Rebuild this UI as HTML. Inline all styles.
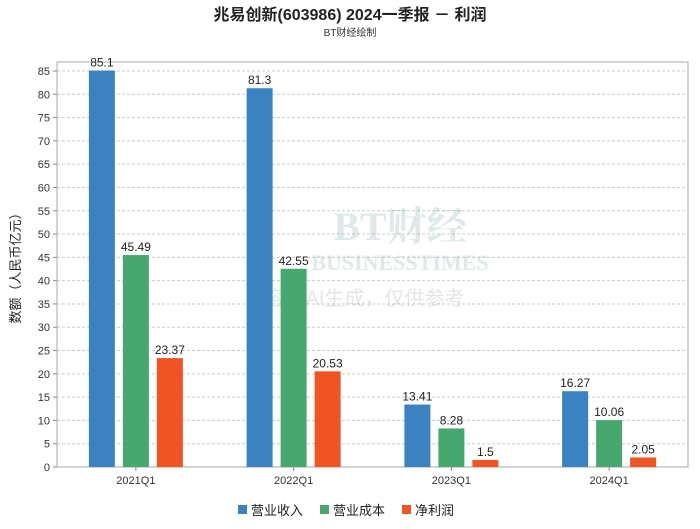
<!DOCTYPE html>
<html><head><meta charset="utf-8"><style>
body{margin:0;background:#fff;font-family:"Liberation Sans","Noto Sans CJK SC",sans-serif;}
</style></head><body>
<svg width="700" height="524" xmlns="http://www.w3.org/2000/svg" font-family="Liberation Sans, Noto Sans CJK SC, sans-serif">
<rect width="700" height="524" fill="#fff"/>
<text x="350" y="20" text-anchor="middle" font-size="16" font-weight="bold" fill="#222">兆易创新(603986) 2024一季报 － 利润</text>
<text x="350" y="36" text-anchor="middle" font-size="10" fill="#333">BT财经绘制</text>
<g id="grid"></g>
<g id="wm" opacity="0.25">
<text x="400" y="240" text-anchor="middle" font-size="40" font-family="Liberation Serif, Noto Serif CJK SC, serif" font-weight="bold" fill="#8aa">BT财经</text>
<text x="400" y="270" text-anchor="middle" font-size="22" font-family="Liberation Serif, serif" font-weight="bold" fill="#8aa">BUSINESSTIMES</text>
<text x="355" y="305" text-anchor="middle" font-size="20" fill="#999">内容由AI生成，仅供参考</text>
</g>
<g id="bars"></g>
<text transform="translate(20,265) rotate(-90)" text-anchor="middle" font-size="13" fill="#222">数额（人民币亿元）</text>
<g font-size="13" fill="#222">
<g><rect x="238" y="505" width="9" height="9" fill="#3a82c0"/><text x="251" y="515">营业收入</text></g>
<g><rect x="320" y="505" width="9" height="9" fill="#46a86e"/><text x="333" y="515">营业成本</text></g>
<g><rect x="402" y="505" width="9" height="9" fill="#f05423"/><text x="415" y="515">净利润</text></g>
</g>
</svg>
<script>
const categories=["2021Q1","2022Q1","2023Q1","2024Q1"];
const revenue=[85.1,81.3,13.41,16.27];
const cost=[45.49,42.55,8.28,10.06];
const profit=[23.37,20.53,1.5,2.05];
const yTicks=[0,5,10,15,20,25,30,35,40,45,50,55,60,65,70,75,80,85];
const NS="http://www.w3.org/2000/svg";
const L=57,R=688,T=62,B=467;
const y=v=>B-v*(467-71)/85;
const xc=i=>L+(R-L)/4*(i+0.5);
function mk(t,a,p){const e=document.createElementNS(NS,t);for(const k in a)e.setAttribute(k,a[k]);p.appendChild(e);return e;}
const g=document.getElementById('grid');
mk('rect',{x:L,y:T,width:R-L,height:B-T,fill:'none',stroke:'#aaa'},g);
yTicks.forEach(v=>{
 if(v>0){const ln=mk('line',{x1:L,x2:R,y1:y(v),y2:y(v),stroke:'#ccc','stroke-dasharray':'3,2'},g);
 
 }
 mk('line',{x1:L-4,x2:L,y1:y(v),y2:y(v),stroke:'#888'},g);
 const t=mk('text',{x:L-7,y:y(v)+4,'text-anchor':'end','font-size':11,fill:'#333'},g);t.textContent=v;
 
 
});
const bg=document.getElementById('bars');
const series=[[revenue,'#3a82c0','revenue'],[cost,'#46a86e','cost'],[profit,'#f05423','profit']];
categories.forEach((c,i)=>{
 series.forEach(([arr,col,nm],j)=>{
  const cx=xc(i)+(j-1)*34,v=arr[i];
  const r=mk('rect',{x:cx-13,y:y(v),width:26,height:B-y(v),fill:col},bg);
  
  
  const t=mk('text',{x:cx,y:y(v)-4,'text-anchor':'middle','font-size':12,fill:'#222'},bg);t.textContent=v;
  
  
 });
 mk('line',{x1:xc(i),x2:xc(i),y1:B,y2:B+4,stroke:'#888'},bg);
 const t=mk('text',{x:xc(i),y:B+17,'text-anchor':'middle','font-size':11,fill:'#333'},bg);t.textContent=c;
 
 
});
</script>
</body></html>
